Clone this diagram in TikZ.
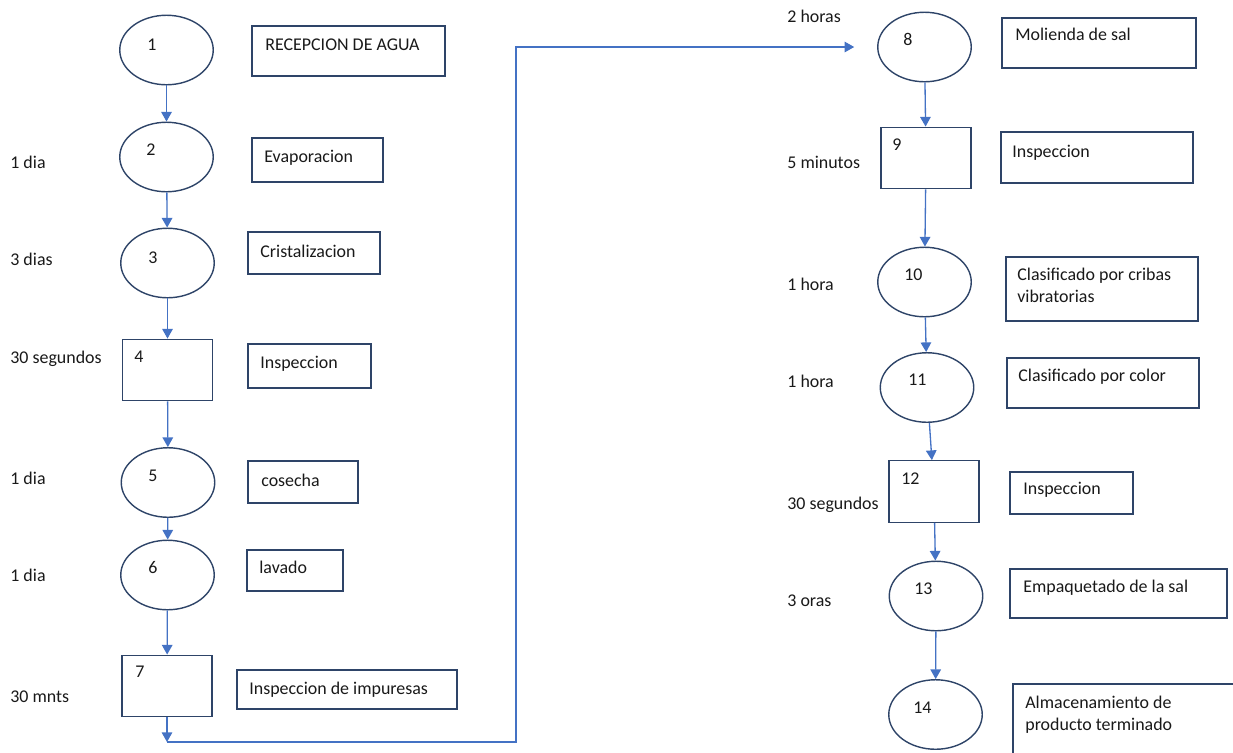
\documentclass[tikz,border=0pt]{standalone}
\usepackage{fontspec}
\setmainfont{Carlito}
\usetikzlibrary{shapes.geometric,arrows.meta,fit}
\definecolor{shapeline}{HTML}{2E4468}
\definecolor{flow}{HTML}{4472C4}
\begin{document}
\begin{tikzpicture}[x=0.02cm, y=-0.02cm,
  every node/.style={font=\fontsize{10.2}{12.5}\selectfont, text=black!90},
  op/.style={draw=shapeline,line width=0.8pt,ellipse,minimum width=1.87cm,minimum height=1.39cm,inner sep=0pt},
  insp/.style={draw=shapeline,line width=0.8pt,rectangle,minimum width=1.8cm,minimum height=1.23cm,inner sep=0pt},
  box/.style={draw=shapeline,line width=0.8pt,rectangle,inner sep=0pt},
  txt/.style={anchor=base west,inner sep=0pt,align=left},
  arr/.style={draw=flow,line width=0.75pt,-{Triangle[length=5.5pt,width=6pt]}}]
\useasboundingbox (0,0) rectangle (1233,752);
% left column
\node[op] (s1) at (166.5,50) {};
\node[op] (s2) at (166.5,157) {};
\node[op] (s3) at (167.5,263) {};
\node[insp] (s4) at (167.5,370) {};
\node[op] (s5) at (168,482.5) {};
\node[op] (s6) at (167.5,575) {};
\node[insp] (s7) at (167,686) {};
% right column
\node[op] (s8) at (924.5,47) {};
\node[insp] (s9) at (926,158) {};
\node[op] (s10) at (924.5,282) {};
\node[op] (s11) at (927,387.5) {};
\node[insp] (s12) at (934,491.5) {};
\node[op] (s13) at (936,596) {};
\node[op] (s14) at (935.5,714.5) {};
% numbers
\node[txt] (n1) at (147,50) {1};
\node[txt] (n2) at (146,155) {2};
\node[txt] (n3) at (148,263) {3};
\node[txt] (n4) at (134,362) {4};
\node[txt] (n5) at (148,481) {5};
\node[txt] (n6) at (148,573) {6};
\node[txt] (n7) at (135,677) {7};
\node[txt] (n8) at (903,45) {8};
\node[txt] (n9) at (892,150) {9};
\node[txt] (n10) at (904,280) {10};
\node[txt] (n11) at (908,385) {11};
\node[txt] (n12) at (901,484) {12};
\node[txt] (n13) at (914,594) {13};
\node[txt] (n14) at (913,713) {14};
% times
\node[txt] (t2) at (10,168) {1 dia};
\node[txt] (t3) at (10,265) {3 dias};
\node[txt] (t4) at (10,363) {30 segundos};
\node[txt] (t5) at (10,484) {1 dia};
\node[txt] (t6) at (10,581) {1 dia};
\node[txt] (t7) at (10,702) {30 mnts};
\node[txt] (t8) at (787,22) {2 horas};
\node[txt] (t9) at (787,168) {5 minutos};
\node[txt] (t10) at (787,290) {1 hora};
\node[txt] (t11) at (787,387) {1 hora};
\node[txt] (t12) at (787,509) {30 segundos};
\node[txt] (t13) at (787,606) {3 oras};
% description boxes
\node[box,fit={(252,26) (445,76)}] (d1) {};
\node[box,fit={(252,138) (383,182)}] (d2) {};
\node[box,fit={(248,232) (380,274)}] (d3) {};
\node[box,fit={(248,344) (371,388)}] (d4) {};
\node[box,fit={(248,461) (358,503)}] (d5) {};
\node[box,fit={(247,550) (343,591)}] (d6) {};
\node[box,fit={(237,670) (457,709)}] (d7) {};
\node[box,fit={(1002,18) (1196,68)}] (d8) {};
\node[box,fit={(1001,132) (1193,183)}] (d9) {};
\node[box,fit={(1006,257) (1198,321)}] (d10) {};
\node[box,fit={(1007,358) (1199,408)}] (d11) {};
\node[box,fit={(1010,472) (1133,514)}] (d12) {};
\node[box,fit={(1010,569) (1227,618)}] (d13) {};
\node[box,fit={(1013,684) (1245,765)}] (d14) {};
\node[txt] (l1) at (265,50) {RECEPCION DE AGUA};
\node[txt] (l2) at (264,162) {Evaporacion};
\node[txt] (l3) at (260,257) {Cristalizacion};
\node[txt] (l4) at (260,368) {Inspeccion};
\node[txt] (l5) at (261,486) {cosecha};
\node[txt] (l6) at (259,573) {lavado};
\node[txt] (l7) at (249,694) {Inspeccion de impuresas};
\node[txt] (l8) at (1015,40) {Molienda de sal};
\node[txt] (l9) at (1012,157) {Inspeccion};
\node[txt] (l10) at (1017,302) {Clasificado por cribas\\vibratorias};
\node[txt] (l11) at (1018,381) {Clasificado por color};
\node[txt] (l12) at (1023,494) {Inspeccion};
\node[txt] (l13) at (1023,592) {Empaquetado de la sal};
\node[txt] (l14) at (1025,730) {Almacenamiento de\\producto terminado};
% flow
\draw[arr] (s1) -- (s2);
\draw[arr] (s2) -- (s3);
\draw[arr] (s3) -- (s4);
\draw[arr] (s4) -- (s5);
\draw[arr] (s5) -- (s6);
\draw[arr] (s6) -- (s7);
\coordinate (c1) at (167,742);
\coordinate (c2) at (516,742);
\draw[arr] (s7) -- (c1);
\draw[arr,shorten >=13] (c1) -- (c2) |- (s8.west);
\draw[arr] (s8) -- (s9);
\draw[arr] (s9) -- (s10);
\draw[arr] (s10) -- (s11);
\draw[arr] (s11) -- (s12);
\draw[arr] (s12) -- (s13);
\draw[arr] (s13) -- (s14);
\end{tikzpicture}
\end{document}
